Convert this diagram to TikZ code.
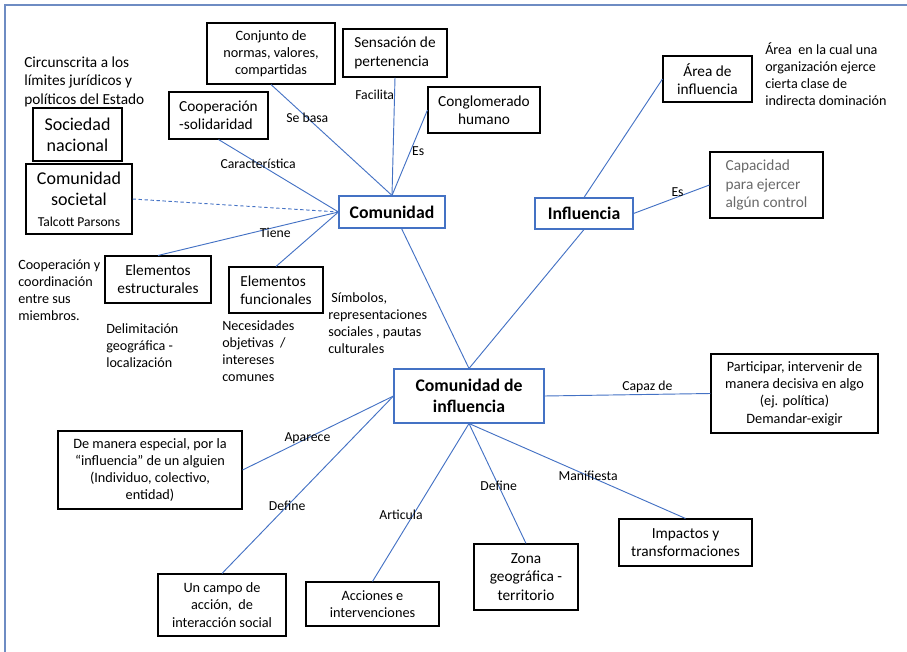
\documentclass[tikz,border=0pt]{standalone}
\usepackage{fontspec}
\setmainfont{Carlito}
\definecolor{linkblue}{RGB}{68,114,196}
\definecolor{framecol}{RGB}{110,140,195}
\definecolor{softgray}{RGB}{105,105,105}
\tikzset{
boxsize/.style 2 args={minimum width=#1*0.75pt, minimum height=#2*0.75pt},
concept/.style={draw=black, line width=0.8pt, align=center, inner sep=1pt,
  font=\fontsize{11.5}{13.7}\selectfont},
dense/.style={font=\fontsize{10.7}{12.9}\selectfont},
hub/.style={concept, draw=linkblue, font=\fontsize{13.3}{15.8}\selectfont\bfseries},
note/.style={align=left, anchor=west, inner sep=0pt, font=\fontsize{10.6}{12.8}\selectfont},
tag/.style={inner sep=1pt, font=\fontsize{10.3}{12}\selectfont},
link/.style={draw=linkblue, line width=0.7pt},
}

\begin{document}
\begin{tikzpicture}[x=0.75pt, y=-0.75pt]
\useasboundingbox (0,0) rectangle (907,652);
\draw[framecol, line width=1.2pt] (5,652) -- (5,5) -- (907,5);

\node[concept, dense, boxsize={128}{61}] (normas) at (271,53.5) {Conjunto de\\normas, valores,\\compartidas};
\node[concept, align=left, boxsize={104}{48}] (pertenencia) at (395,53) {Sensación de\\pertenencia};
\node[concept, boxsize={112}{46}] (conglomerado) at (484,110) {Conglomerado\\humano};
\node[concept, align=left, boxsize={99}{47}] (cooperacion) at (218.5,115.5) {Cooperación\\-solidaridad};
\node[concept, font=\fontsize{13.5}{16}\selectfont, boxsize={89}{53}] (nacional) at (77.5,134.5) {Sociedad\\nacional};
\node[concept, font=\fontsize{13.5}{15.8}\selectfont, boxsize={106}{70}] (societal) at (79,199)
  {Comunidad\\societal\\{\fontsize{10.2}{12}\selectfont Talcott Parsons}};
\node[hub, boxsize={106}{32}] (comunidad) at (392,212) {Comunidad};

\node[concept, boxsize={89}{46}] (area) at (707.5,79) {Área de\\influencia};
\node[concept, align=left, text=softgray, boxsize={113}{66}] (capacidad) at (766.5,185) {Capacidad\\para ejercer\\algún control};
\node[hub, boxsize={98}{31}] (influencia) at (584,213.5) {Influencia};

\node[concept, boxsize={106}{47}] (estructurales) at (158,279.5) {Elementos\\estructurales};
\node[concept, align=left, boxsize={94}{46}] (funcionales) at (276,290) {Elementos\\funcionales};

\node[hub, boxsize={150}{54}] (cdi) at (469,396) {Comunidad de\\influencia};
\node[concept, dense, boxsize={167}{79}] (participar) at (794.5,393.5) {Participar, intervenir de\\manera decisiva en algo\\(ej. política)\\Demandar-exigir};
\node[concept, dense, boxsize={184}{78}] (especial) at (150,470) {De manera especial, por la\\“influencia” de un alguien\\(Individuo, colectivo,\\entidad)};
\node[concept, dense, boxsize={128}{62}] (campo) at (222,605) {Un campo de\\acción,~ de\\interacción social};
\node[concept, dense, boxsize={133}{44}] (acciones) at (372.5,604) {Acciones e\\intervenciones};
\node[concept, boxsize={104}{66}] (zona) at (526,577) {Zona\\geográfica -\\territorio};
\node[concept, boxsize={133}{47}] (impactos) at (685.5,542.5) {Impactos y\\transformaciones};

\node[note, font=\fontsize{11.5}{13.9}\selectfont] (circunscrita) at (24,81.5) {Circunscrita a los\\límites jurídicos y\\políticos del Estado};
\node[note] (areanota) at (765,74) {Área~ en la cual una\\organización ejerce\\cierta clase de\\indirecta dominación};
\node[note] (coordinacion) at (18,290.5) {Cooperación y\\coordinación\\entre sus\\miembros.};
\node[note] (delimitacion) at (106,346) {Delimitación\\geográfica -\\localización};
\node[note] (necesidades) at (222,351.5) {Necesidades\\objetivas~ /\\intereses\\comunes};
\node[note] (simbolos) at (328,323) {~Símbolos,\\representaciones\\sociales , pautas\\culturales};

\draw[link] (normas.south) -- (comunidad.north) node[tag, pos=0.3] {Se basa};
\draw[link] (pertenencia.south) -- (comunidad.north) node[tag, pos=0.15, left, inner sep=0pt] {Facilita};
\draw[link] (conglomerado.west) -- (comunidad.north) node[tag, pos=0.48, right] {Es};
\draw[link] (cooperacion.south) -- (comunidad.west) node[tag, pos=0.33] {Característica};
\draw[link, dash pattern=on 2.5pt off 2pt] (societal.east) -- (comunidad.west);
\draw[link] (comunidad.west) -- (estructurales.north) node[tag, pos=0.35, below, inner sep=0pt] {Tiene};
\draw[link] (comunidad.west) -- (funcionales.north);
\draw[link] (comunidad.300) -- (cdi.north);

\draw[link] (area.west) -- (influencia.north);
\draw[link] (influencia.east) -- (capacidad.west) node[tag, pos=0.58, above, inner sep=0pt] {Es};
\draw[link] (influencia.south) -- (cdi.north);

\draw[link] (cdi.east) -- (participar.west) node[tag, pos=0.62, above] {Capaz de};
\draw[link] (cdi.west) -- (especial.east) node[tag, pos=0.57] {Aparece};
\draw[link] (cdi.west) -- (campo.north) node[tag, pos=0.62] {Define};
\draw[link] (cdi.south) -- (acciones.north) node[tag, pos=0.58, xshift=-9pt] {Articula};
\draw[link] (cdi.south) -- (zona.north) node[tag, pos=0.52] {Define};
\draw[link] (cdi.south) -- (impactos.north) node[tag, pos=0.55] {Manifiesta};
\end{tikzpicture}
\end{document}
